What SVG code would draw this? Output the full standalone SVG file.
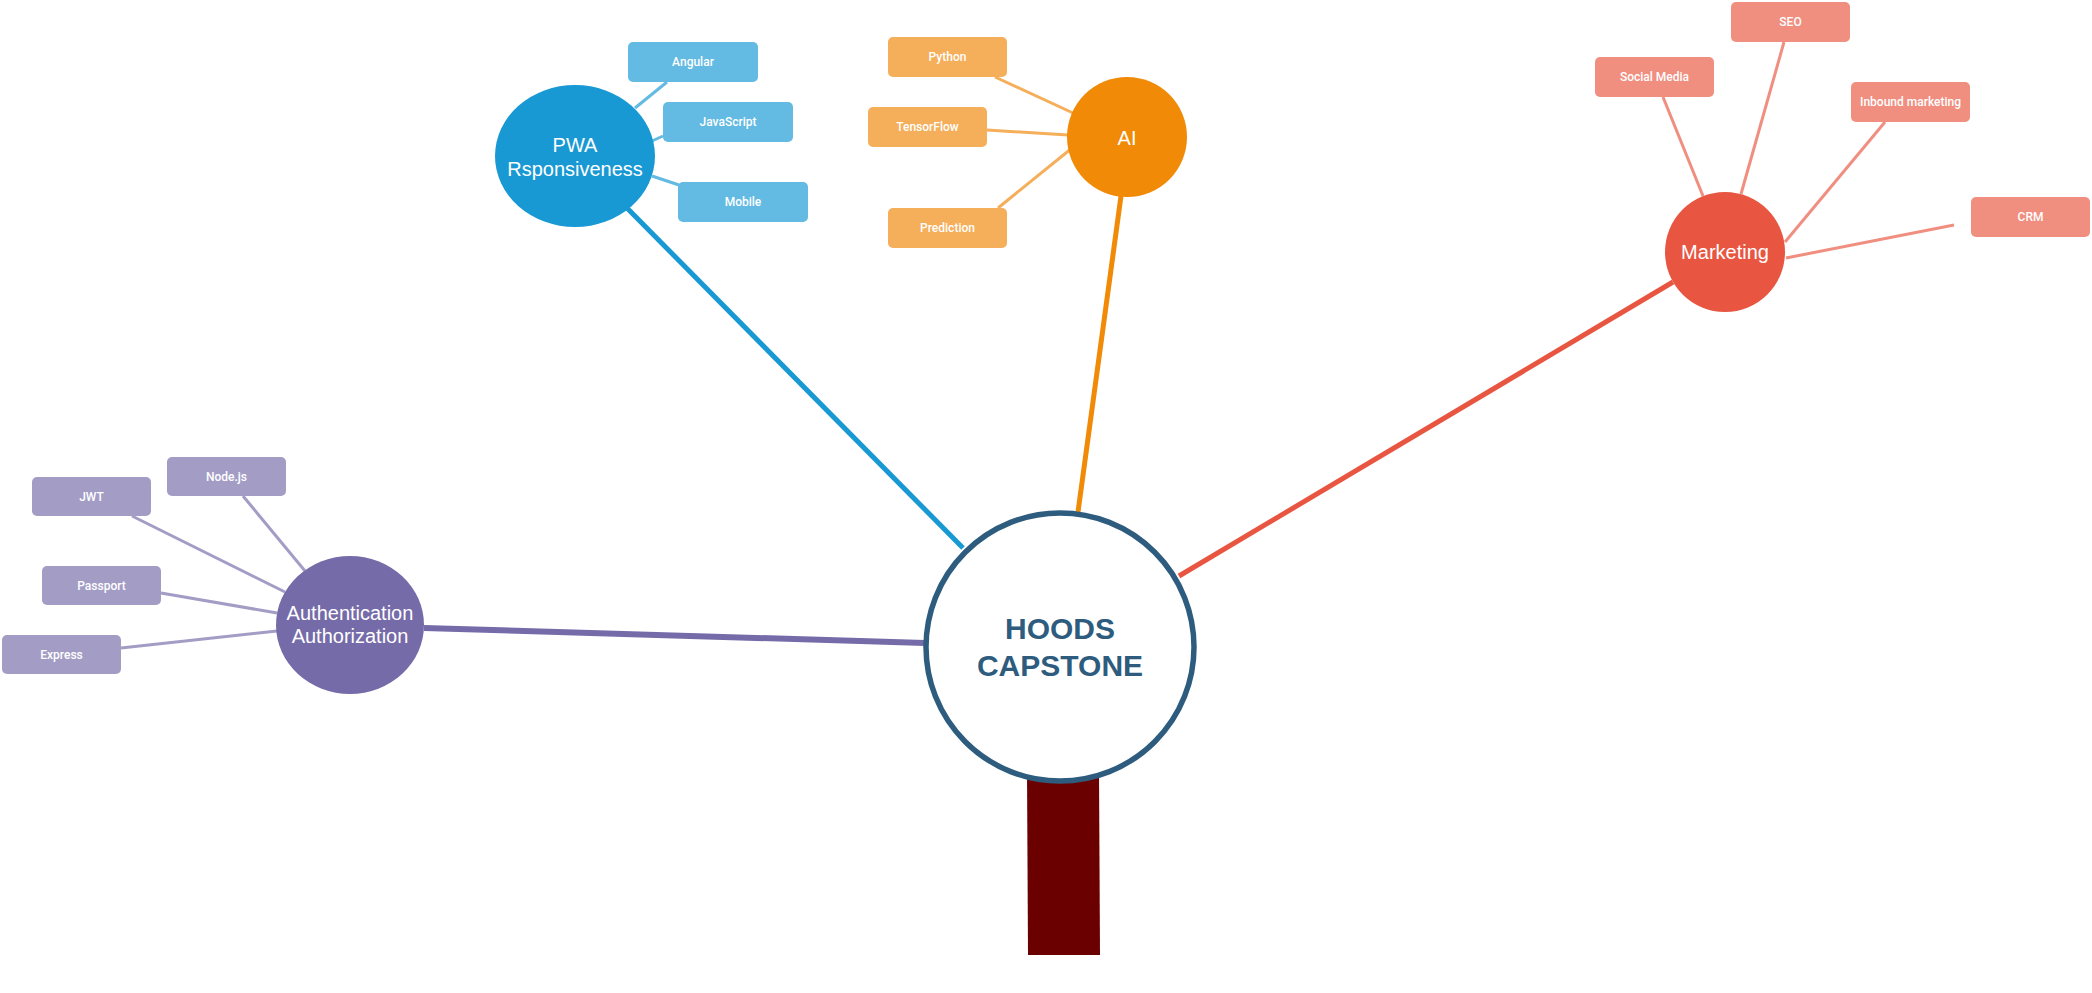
<svg xmlns="http://www.w3.org/2000/svg" width="2092" height="993" viewBox="0 0 2092 993">
<style>
.main{font-family:"Liberation Sans",Arial,sans-serif;font-size:20px;fill:#fff;text-anchor:middle}
.leaf{font-family:Roboto,"Liberation Sans",Arial,sans-serif;font-size:12px;font-weight:500;fill:#fff;text-anchor:middle}
.root{font-family:"Liberation Sans",Arial,sans-serif;font-size:30px;font-weight:bold;fill:#2E5C7E;text-anchor:middle}
.c{fill:none;stroke-linecap:butt}
.pw{fill:#63BAE2}.ai{fill:#F5AE5A}.mk{fill:#F08E80}.au{fill:#A39DC6}
</style>
<rect width="2092" height="993" fill="#fff"/>
<g id="connectors">
  <line class="c" x1="627" y1="208" x2="963" y2="548" stroke="#1899D3" stroke-width="5"/>
  <line class="c" x1="1121" y1="196" x2="1078" y2="512" stroke="#F08A07" stroke-width="5"/>
  <line class="c" x1="1673" y1="282" x2="1179" y2="576" stroke="#E85642" stroke-width="5"/>
  <line class="c" x1="424" y1="628" x2="925" y2="643" stroke="#756BA8" stroke-width="6"/>
  <line class="c" x1="667" y1="82" x2="635" y2="108" stroke="#63BAE2" stroke-width="3"/>
  <line class="c" x1="663" y1="136" x2="652" y2="141" stroke="#63BAE2" stroke-width="3"/>
  <line class="c" x1="679" y1="185" x2="652" y2="176" stroke="#63BAE2" stroke-width="3"/>
  <line class="c" x1="995" y1="77" x2="1073" y2="113" stroke="#F5AE5A" stroke-width="3"/>
  <line class="c" x1="987" y1="130" x2="1068" y2="135" stroke="#F5AE5A" stroke-width="3"/>
  <line class="c" x1="998" y1="208" x2="1077" y2="144" stroke="#F5AE5A" stroke-width="3"/>
  <line class="c" x1="1663" y1="97" x2="1703" y2="196" stroke="#F08E80" stroke-width="3"/>
  <line class="c" x1="1784" y1="42" x2="1741" y2="194" stroke="#F08E80" stroke-width="3"/>
  <line class="c" x1="1885" y1="122" x2="1785" y2="242" stroke="#F08E80" stroke-width="3"/>
  <line class="c" x1="1954" y1="225" x2="1786" y2="258" stroke="#F08E80" stroke-width="3"/>
  <line class="c" x1="243" y1="496" x2="305" y2="571" stroke="#A39DC6" stroke-width="3"/>
  <line class="c" x1="132" y1="516" x2="285" y2="592" stroke="#A39DC6" stroke-width="3"/>
  <line class="c" x1="161" y1="593" x2="277" y2="613" stroke="#A39DC6" stroke-width="3"/>
  <line class="c" x1="121" y1="648" x2="277" y2="631" stroke="#A39DC6" stroke-width="3"/>
</g>
<g id="trunk">
  <polygon points="1027,770 1099,770 1100,955 1028,955" fill="#6B0000"/>
</g>
<g id="root">
  <circle cx="1060" cy="647" r="134" fill="#fff" stroke="#2E5C7E" stroke-width="5.5"/>
  <text class="root" x="1060" y="639">HOODS</text>
  <text class="root" x="1060" y="676">CAPSTONE</text>
</g>
<g id="pwa">
  <ellipse cx="575" cy="156" rx="80" ry="71" fill="#1899D3"/>
  <text class="main" x="575" y="152">PWA</text>
  <text class="main" x="575" y="176">Rsponsiveness</text>
</g>
<g id="angular"><rect class="pw" x="628" y="42" width="130" height="40" rx="5"/><text class="leaf" x="693" y="66">Angular</text></g>
<g id="javascript"><rect class="pw" x="663" y="102" width="130" height="40" rx="5"/><text class="leaf" x="728" y="126">JavaScript</text></g>
<g id="mobile"><rect class="pw" x="678" y="182" width="130" height="40" rx="5"/><text class="leaf" x="743" y="206">Mobile</text></g>
<g id="ai">
  <circle cx="1127" cy="137" r="60" fill="#F08A07"/>
  <text class="main" x="1127" y="145">AI</text>
</g>
<g id="python"><rect class="ai" x="888" y="37" width="119" height="40" rx="5"/><text class="leaf" x="947.5" y="61">Python</text></g>
<g id="tensorflow"><rect class="ai" x="868" y="107" width="119" height="40" rx="5"/><text class="leaf" x="927.5" y="131">TensorFlow</text></g>
<g id="prediction"><rect class="ai" x="888" y="208" width="119" height="40" rx="5"/><text class="leaf" x="947.5" y="232">Prediction</text></g>
<g id="marketing">
  <circle cx="1725" cy="252" r="60" fill="#E85642"/>
  <text class="main" x="1725" y="259">Marketing</text>
</g>
<g id="seo"><rect class="mk" x="1731" y="2" width="119" height="40" rx="5"/><text class="leaf" x="1790.5" y="26">SEO</text></g>
<g id="socialmedia"><rect class="mk" x="1595" y="57" width="119" height="40" rx="5"/><text class="leaf" x="1654.5" y="81">Social Media</text></g>
<g id="inbound"><rect class="mk" x="1851" y="82" width="119" height="40" rx="5"/><text class="leaf" x="1910.5" y="106">Inbound marketing</text></g>
<g id="crm"><rect class="mk" x="1971" y="197" width="119" height="40" rx="5"/><text class="leaf" x="2030.5" y="221">CRM</text></g>
<g id="auth">
  <ellipse cx="350" cy="625" rx="74" ry="69" fill="#756BA8"/>
  <text class="main" x="350" y="620">Authentication</text>
  <text class="main" x="350" y="643">Authorization</text>
</g>
<g id="nodejs"><rect class="au" x="167" y="457" width="119" height="39" rx="5"/><text class="leaf" x="226.5" y="481">Node.js</text></g>
<g id="jwt"><rect class="au" x="32" y="477" width="119" height="39" rx="5"/><text class="leaf" x="91.5" y="501">JWT</text></g>
<g id="passport"><rect class="au" x="42" y="566" width="119" height="39" rx="5"/><text class="leaf" x="101.5" y="590">Passport</text></g>
<g id="express"><rect class="au" x="2" y="635" width="119" height="39" rx="5"/><text class="leaf" x="61.5" y="659">Express</text></g>
</svg>
